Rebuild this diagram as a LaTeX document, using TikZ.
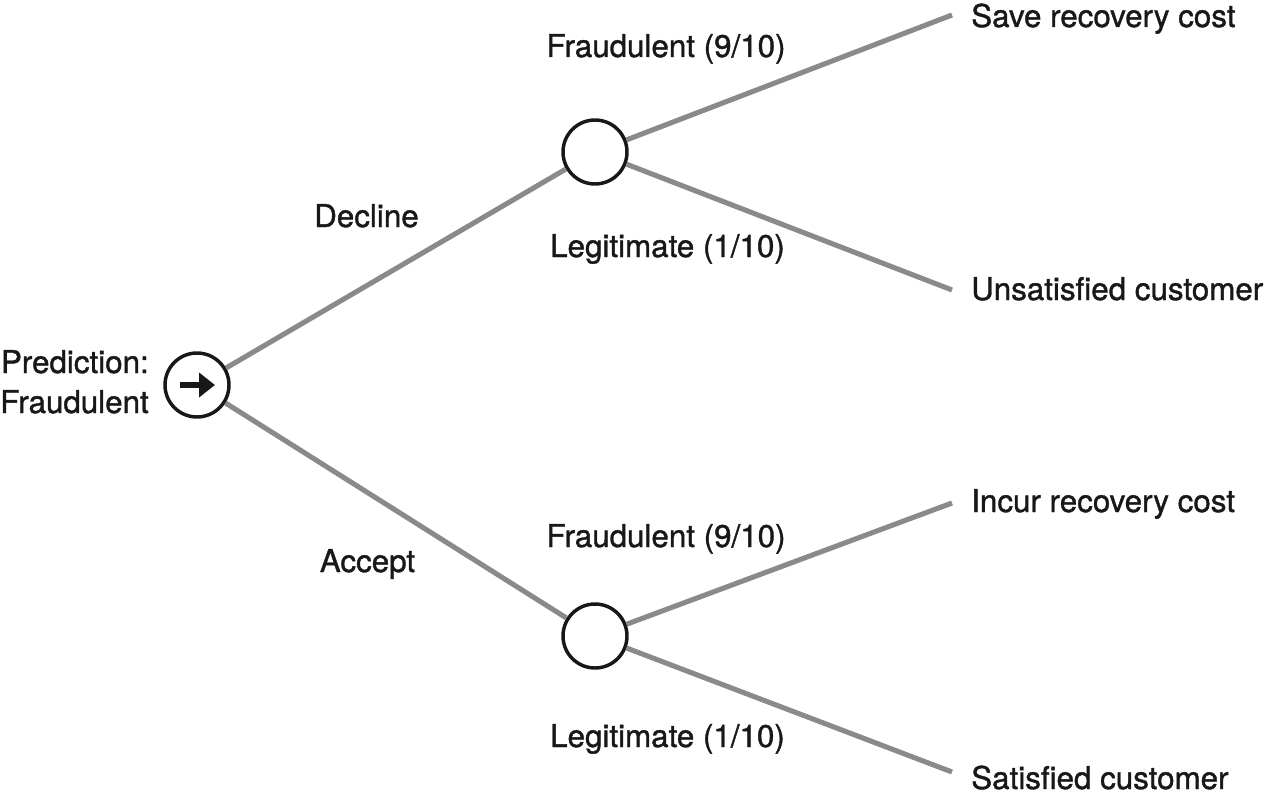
\documentclass[tikz,border=0pt]{standalone}
\usepackage{fontspec}
\setmainfont[FakeBold=1.2]{TeX Gyre Heros}
\usetikzlibrary{arrows.meta}
\definecolor{branch}{HTML}{8A8A8C}
\definecolor{ink}{HTML}{1A1718}
\begin{document}
\begin{tikzpicture}[x=0.75pt,y=-0.75pt,
  chance/.style={circle,draw=ink,line width=2.6pt,minimum size=48pt,inner sep=0pt,fill=white},
  branchline/.style={draw=branch,line width=3.8pt},
  lbl/.style={font=\fontsize{23.5}{28}\selectfont,text=ink,inner sep=0pt,anchor=base},
  outcome/.style={lbl,anchor=base west}]
\useasboundingbox (0,0) rectangle (1268,792);
% nodes
\node[chance] (root) at (197,385) {};
\node[chance] (up) at (595,152) {};
\node[chance] (lo) at (595,636) {};
\coordinate (e1) at (952,15);
\coordinate (e2) at (952,290);
\coordinate (e3) at (952,503);
\coordinate (e4) at (952,772);
% branches
\draw[branchline] (root) -- (up);
\draw[branchline] (root) -- (lo);
\draw[branchline] (up) -- (e1);
\draw[branchline] (up) -- (e2);
\draw[branchline] (lo) -- (e3);
\draw[branchline] (lo) -- (e4);
% arrow in root
\coordinate (a1) at (180,385);
\coordinate (a2) at (215,385);
\draw[ink,line width=5pt,-{Triangle[length=12pt,width=18pt]}] (a1) -- (a2);
% labels
\node[lbl,anchor=base east] (pred1) at (149,373) {Prediction:};
\node[lbl,anchor=base east] (pred2) at (149,413) {Fraudulent};
\node[lbl] (dec) at (366.5,227) {Decline};
\node[lbl] (acc) at (367.5,572) {Accept};
\node[lbl] (f1) at (666,57) {Fraudulent (9/10)};
\node[lbl] (l1) at (667.5,257) {Legitimate (1/10)};
\node[lbl] (f2) at (666,547) {Fraudulent (9/10)};
\node[lbl] (l2) at (667.5,747) {Legitimate (1/10)};
\node[outcome] (o1) at (971,27) {Save recovery cost};
\node[outcome] (o2) at (971,300) {Unsatisfied customer};
\node[outcome] (o3) at (971,512) {Incur recovery cost};
\node[outcome] (o4) at (971,789) {Satisfied customer};
\end{tikzpicture}
\end{document}
